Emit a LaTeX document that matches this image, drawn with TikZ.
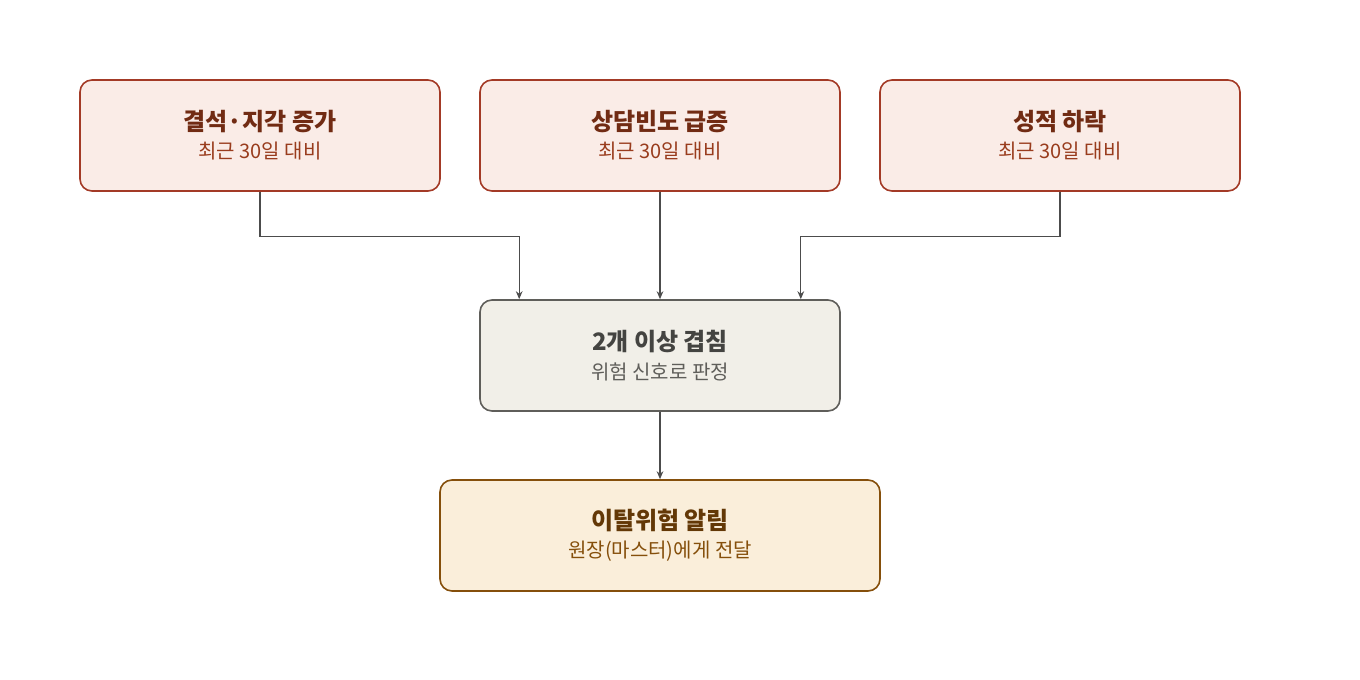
\documentclass[tikz,border=0pt]{standalone}
\usepackage{fontspec}
\setmainfont{Noto Sans CJK KR}
\usetikzlibrary{arrows.meta}
\definecolor{rfill}{HTML}{FAECE7}\definecolor{rline}{HTML}{A33A26}\definecolor{rtit}{HTML}{712B13}\definecolor{rsub}{HTML}{993C1D}
\definecolor{gfill}{HTML}{F1EFE8}\definecolor{gline}{HTML}{5F5E5A}\definecolor{gtit}{HTML}{444441}\definecolor{gsub}{HTML}{5F5E5A}
\definecolor{yfill}{HTML}{FAEEDA}\definecolor{yline}{HTML}{854F0B}\definecolor{ytit}{HTML}{633806}\definecolor{ysub}{HTML}{854F0B}
\begin{document}
\begin{tikzpicture}[x=0.75pt,y=-0.75pt,
 box/.style={draw,line width=1.2pt,rounded corners=9pt,minimum width=270pt,minimum height=83.25pt,align=center,inner sep=0pt},
 red/.style={box,fill=rfill,draw=rline},
 gray/.style={box,fill=gfill,draw=gline},
 yel/.style={box,fill=yfill,draw=yline,minimum width=330pt},
 con/.style={draw=black!70,line width=0.9pt,-{Stealth[length=6pt,width=5pt]}}]
\useasboundingbox (0,0) rectangle (1360,680);
\newcommand{\bx}[4]{{\fontsize{18}{22}\selectfont\bfseries\color{#1}#2}\\[6pt]{\fontsize{15}{18}\selectfont\color{#3}#4}}
\node[red] (a) at (260,135.5) {\bx{rtit}{결석·지각 증가}{rsub}{최근 30일 대비}};
\node[red] (b) at (660,135.5) {\bx{rtit}{상담빈도 급증}{rsub}{최근 30일 대비}};
\node[red] (c) at (1060,135.5) {\bx{rtit}{성적 하락}{rsub}{최근 30일 대비}};
\node[gray] (m) at (660,355.5) {\bx{gtit}{2개 이상 겹침}{gsub}{위험 신호로 판정}};
\node[yel] (d) at (660,535.5) {\bx{ytit}{이탈위험 알림}{ysub}{원장(마스터)에게 전달}};
\draw[con] (a.south) -- ++(0,45) -| ([xshift=30pt]m.north west);
\draw[con] (b.south) -- (m.north);
\draw[con] (c.south) -- ++(0,45) -| ([xshift=-30pt]m.north east);
\draw[con] (m.south) -- (d.north);
\end{tikzpicture}
\end{document}
